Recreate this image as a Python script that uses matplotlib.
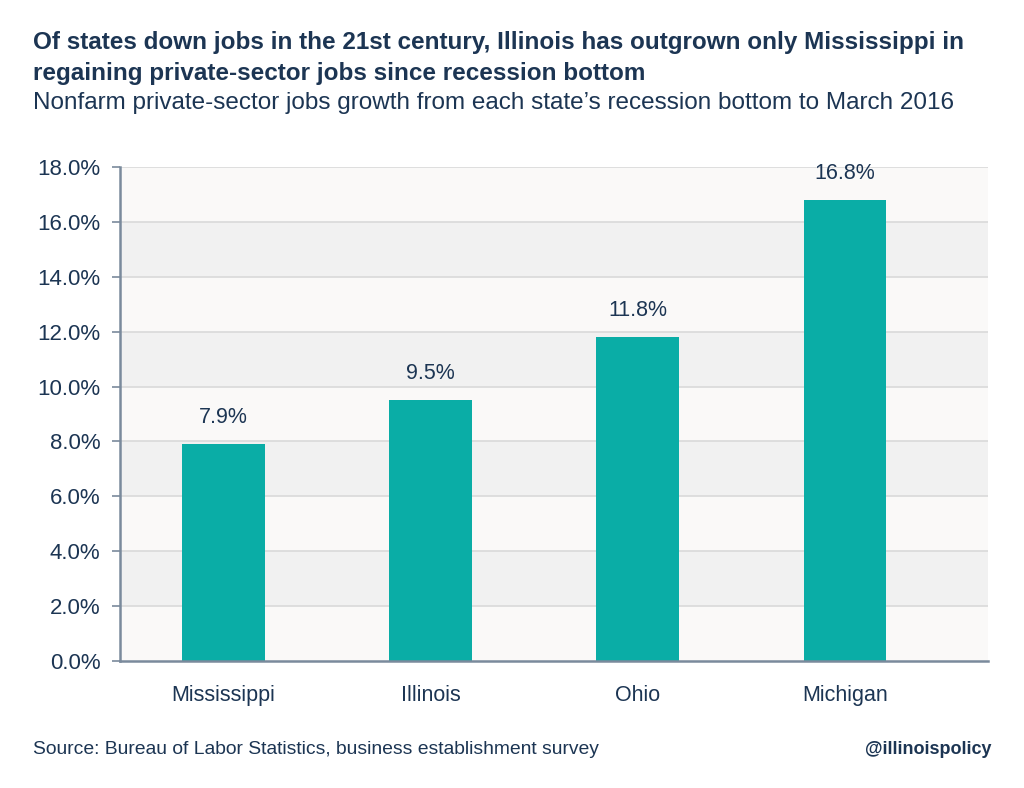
import matplotlib.pyplot as plt
from matplotlib.ticker import FuncFormatter

# dados do grafico
states = ['Mississippi', 'Illinois', 'Ohio', 'Michigan']
growth = [7.9, 9.5, 11.8, 16.8]
yticks = [0, 2, 4, 6, 8, 10, 12, 14, 16, 18]

navy = '#1c3553'
teal = '#0aada6'
fam = ['Liberation Sans Narrow', 'Liberation Sans', 'DejaVu Sans']
plt.rcParams['font.family'] = fam

fig = plt.figure(figsize=(10.24, 7.88), dpi=100)
ax = fig.add_axes([120/1024, 1 - 661/788, 868/1024, (661 - 167)/788])

# fundo com faixas alternadas
ax.set_facecolor('#faf9f8')
for i in range(len(yticks) - 1):
    if i % 2 == 1:
        ax.axhspan(yticks[i], yticks[i+1], color='#f1f1f1', zorder=0, lw=0)
for t in yticks[1:]:
    ax.axhline(t, color='#d9d9d9', lw=1.2, zorder=1)

x = range(len(states))
ax.bar(x, growth, width=0.40, color=teal, zorder=3)
for xi, v in zip(x, growth):
    ax.annotate('%.1f%%' % v, (xi, v), xytext=(0, 19), textcoords='offset points',
                ha='center', va='center', fontsize=15.5, color=navy)

ax.set_xlim(-0.5, 3.69)
ax.set_ylim(0, 18)
ax.set_yticks(yticks)
ax.yaxis.set_major_formatter(FuncFormatter(lambda v, p: '%.1f%%' % v))
ax.set_xticks(list(x))
ax.set_xticklabels(states)
ax.tick_params(axis='y', length=6, width=1.2, color='#7a8a9c', labelsize=16,
               labelcolor=navy, pad=8)
ax.tick_params(axis='x', length=0, labelsize=15.5, labelcolor=navy, pad=17)

for s in ['top', 'right']:
    ax.spines[s].set_visible(False)
for s in ['left', 'bottom']:
    ax.spines[s].set_color('#7a8a9c')
    ax.spines[s].set_linewidth(1.8)
    ax.spines[s].set_zorder(4)

fig.text(33/1024, 1 - 58/788,
         'Of states down jobs in the 21st century, Illinois has outgrown only Mississippi in\n'
         'regaining private-sector jobs since recession bottom',
         fontsize=17.5, fontweight='bold', color=navy, va='center', ha='left',
         linespacing=1.4)
fig.text(33/1024, 1 - 103/788,
         'Nonfarm private-sector jobs growth from each state\u2019s recession bottom to March 2016',
         fontsize=17.5, color=navy, va='center', ha='left')
fig.text(33/1024, 1 - 750/788,
         'Source: Bureau of Labor Statistics, business establishment survey',
         fontsize=13.9, color=navy, va='center', ha='left')
fig.text(992/1024, 1 - 750/788, '@illinoispolicy',
         fontsize=13, fontweight='bold', color=navy, va='center', ha='right')

fig.savefig('out.png', dpi=100)
